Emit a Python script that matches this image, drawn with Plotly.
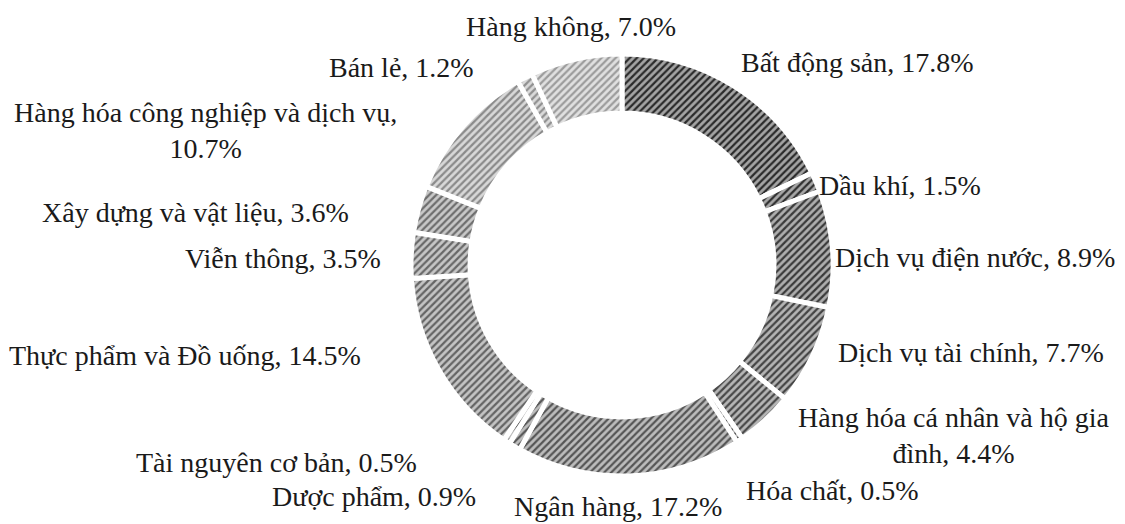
import plotly.graph_objects as go

# ---- data (clockwise from 12 o'clock) ----
sectors = ["Bất động sản", "Dầu khí", "Dịch vụ điện nước", "Dịch vụ tài chính",
           "Hàng hóa cá nhân và hộ gia đình", "Hóa chất", "Ngân hàng", "Dược phẩm",
           "Tài nguyên cơ bản", "Thực phẩm và Đồ uống", "Viễn thông",
           "Xây dựng và vật liệu", "Hàng hóa công nghiệp và dịch vụ", "Bán lẻ", "Hàng không"]
shares = [17.8, 1.5, 8.9, 7.7, 4.4, 0.5, 17.2, 0.9, 0.5, 14.5, 3.5, 3.6, 10.7, 1.2, 7.0]

# ---- styling ----
fg = ["#2a2a2a", "#303030", "#3a3a3a", "#444444", "#484848", "#4e4e4e", "#555555",
      "#585858", "#5c5c5c", "#646464", "#686868", "#6e6e6e", "#8a8a8a", "#909090", "#9c9c9c"]
bg = ["#a4a4a4", "#a8a8a8", "#aeaeae", "#b4b4b4", "#b6b6b6", "#b8b8b8", "#bcbcbc",
      "#bebebe", "#c0c0c0", "#c4c4c4", "#c6c6c6", "#c8c8c8", "#d8d8d8", "#dadada", "#e0e0e0"]

W, H = 1125, 524
cx, cy, R = 614, 257, 211

# label positions in pixels (centre of text block)
label_pos = {
    "Bất động sản": (849, 54),
    "Dầu khí": (892, 177),
    "Dịch vụ điện nước": (967, 249),
    "Dịch vụ tài chính": (963, 344),
    "Hàng hóa cá nhân và hộ gia đình": (946, 427),
    "Hóa chất": (824, 482),
    "Ngân hàng": (610, 498),
    "Dược phẩm": (366, 488),
    "Tài nguyên cơ bản": (268, 454),
    "Thực phẩm và Đồ uống": (177, 347),
    "Viễn thông": (275, 250),
    "Xây dựng và vật liệu": (187, 204),
    "Hàng hóa công nghiệp và dịch vụ": (197, 122),
    "Bán lẻ": (393, 60),
    "Hàng không": (563, 18),
}
breaks = {
    "Hàng hóa công nghiệp và dịch vụ": "Hàng hóa công nghiệp và dịch vụ,<br>{v}%",
    "Hàng hóa cá nhân và hộ gia đình": "Hàng hóa cá nhân và hộ gia<br>đình, {v}%",
}

fig = go.Figure(go.Pie(
    labels=sectors,
    values=shares,
    sort=False,
    direction="clockwise",
    rotation=0,
    hole=0.72,
    textinfo="none",
    showlegend=False,
    marker=dict(
        colors=bg,
        line=dict(color="white", width=5),
        pattern=dict(shape="/", fgcolor=fg, bgcolor=bg, size=5, solidity=0.45),
    ),
    domain=dict(x=[(cx - R) / W, (cx + R) / W], y=[1 - (cy + R) / H, 1 - (cy - R) / H]),
))

annotations = []
for name, v in zip(sectors, shares):
    px, py = label_pos[name]
    vs = f"{v:.1f}"
    text = breaks[name].format(v=vs) if name in breaks else f"{name}, {vs}%"
    annotations.append(dict(
        x=px / W, y=1 - py / H, xref="paper", yref="paper",
        text=text, showarrow=False, xanchor="center", yanchor="middle",
        font=dict(family="Liberation Serif, Times New Roman, serif", size=28, color="#1a1a1a"),
    ))

fig.update_layout(
    width=W, height=H,
    margin=dict(l=0, r=0, t=0, b=0),
    paper_bgcolor="white",
    plot_bgcolor="white",
    annotations=annotations,
)

fig.write_html("out.html")
